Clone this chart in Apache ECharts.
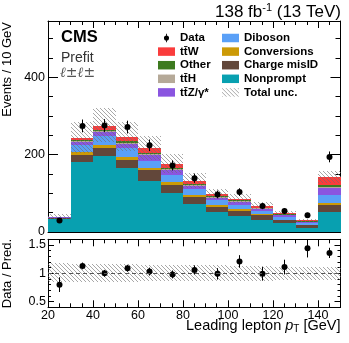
<!DOCTYPE html>
<html>
<head>
<meta charset="utf-8">
<script src="https://cdn.jsdelivr.net/npm/echarts@6/dist/echarts.min.js"></script>
<style>
html, body { margin: 0; padding: 0; background: #fff; }
#chart { width: 349px; height: 343px; }
</style>
</head>
<body>
<div id="chart"></div>
<script>
// Leading lepton pT bins [GeV], last bin holds the overflow
const binEdges = [20, 30, 40, 50, 60, 70, 80, 90, 100, 110, 120, 130, 140, 150];

// Prefit yields (events / 10 GeV), stack order bottom -> top
const nonprompt   = [34, 182, 196, 165, 133, 101, 73, 52, 41, 32, 22, 11, 51];
const chargeMisID = [1, 18, 21, 22, 26, 20, 17, 13, 13, 11, 8, 6, 18];
const conversions = [0.5, 7, 8, 8, 7, 7, 5, 4, 4.5, 3, 2, 1, 7];
const diboson     = [1.5, 17, 23, 21, 17, 19, 16, 14, 12, 9, 7, 5, 20];
const ttZ         = [0.5, 9, 10, 12, 16, 13, 9, 5, 7, 5, 4, 3, 18];
const ttH         = [0.2, 2, 3, 3, 2.5, 2, 2, 1.5, 1.5, 1, 1, 0.5, 3];
const other       = [0.3, 3, 3, 4, 3.5, 3, 3, 3, 2.5, 2, 1.5, 1, 5];
const ttW         = [0.5, 5, 10, 11, 11, 11, 8, 6, 5, 5, 3.5, 2.5, 20];

// Observed data
const dataYield = [30, 274, 275, 271, 224, 172, 139, 97, 103, 67, 54, 43, 194];
const dataErr   = [5.5, 16.5, 16.5, 16.5, 15, 13, 12, 10, 10, 8, 7.5, 6.5, 14];

// Total relative uncertainty of the prediction
const uncUp   = [0.19, 0.17, 0.17, 0.16, 0.15, 0.15, 0.14, 0.14, 0.13, 0.13, 0.12, 0.12, 0.11];
const uncDown = [0.16, 0.16, 0.15, 0.15, 0.14, 0.14, 0.14, 0.13, 0.13, 0.13, 0.12, 0.12, 0.11];

// Data / prediction
const ratio    = [0.80, 1.13, 1.00, 1.09, 1.03, 0.98, 1.06, 0.99, 1.21, 0.99, 1.11, 1.44, 1.36];
const ratioErr = [0.13, 0.06, 0.06, 0.06, 0.07, 0.07, 0.08, 0.10, 0.11, 0.12, 0.13, 0.16, 0.09];

const ratioTicks = [0.5, 1, 1.5];

const FONT = '"Liberation Sans", Arial, Helvetica, sans-serif';
const N_TTW = 't\u0074\u0304W';
const N_TTH = 't\u0074\u0304H';
const N_TTZ = 't\u0074\u0304Z/\u03b3*';

const processes = [
    { name: 'Nonprompt', values: nonprompt, color: '#08a0b0' },
    { name: 'Charge misID', values: chargeMisID, color: '#62473a' },
    { name: 'Conversions', values: conversions, color: '#cc9a06' },
    { name: 'Diboson', values: diboson, color: '#5aa0f7' },
    { name: N_TTZ, values: ttZ, color: '#8a55e0' },
    { name: N_TTH, values: ttH, color: '#b5a998' },
    { name: 'Other', values: other, color: '#3d7a1f' },
    { name: N_TTW, values: ttW, color: '#fa3c3c' }
];

// diagonal hatch pattern used for the uncertainty bands
function hatch(color) {
    const s = 4;
    const c = document.createElement('canvas');
    c.width = s; c.height = s;
    const ctx = c.getContext('2d');
    ctx.strokeStyle = color;
    ctx.lineWidth = 1;
    ctx.beginPath();
    ctx.moveTo(-1, -1); ctx.lineTo(s + 1, s + 1);
    ctx.moveTo(-1, s - 1); ctx.lineTo(1, s + 1);
    ctx.moveTo(s - 1, -1); ctx.lineTo(s + 1, 1);
    ctx.stroke();
    return { image: c, repeat: 'repeat' };
}
const hatchFill = hatch('rgba(110,110,110,0.6)');

// one rectangle per bin, snapped to whole pixels so neighbours don't leave seams
function renderBox(params, api) {
    const a = api.coord([api.value(0), api.value(3)]);
    const b = api.coord([api.value(1), api.value(2)]);
    const x0 = Math.round(a[0]), x1 = Math.round(b[0]);
    const y0 = Math.round(a[1]), y1 = Math.round(b[1]);
    return {
        type: 'rect',
        shape: { x: x0, y: y0, width: x1 - x0, height: y1 - y0 },
        style: api.style()
    };
}

function renderPoint(params, api) {
    const xc = (api.value(0) + api.value(1)) / 2;
    const y = api.value(2), e = api.value(3);
    const c = api.coord([xc, y]);
    const t = api.coord([xc, y + e]);
    const b = api.coord([xc, y - e]);
    const x = Math.round(c[0]) + 0.5;
    return {
        type: 'group',
        children: [
            { type: 'line', shape: { x1: x, y1: t[1], x2: x, y2: b[1] }, style: { stroke: '#000', lineWidth: 1 } },
            { type: 'circle', shape: { cx: x, cy: c[1], r: 3 }, style: { fill: '#000' } }
        ]
    };
}

// stacked prediction
const totals = binEdges.slice(1).map(() => 0);
const stackSeries = processes.map(p => {
    const items = p.values.map((v, i) => {
        const it = [binEdges[i], binEdges[i + 1], totals[i], totals[i] + v];
        totals[i] += v;
        return it;
    });
    return {
        name: p.name, type: 'custom', renderItem: renderBox,
        xAxisIndex: 0, yAxisIndex: 0, z: 2,
        encode: { x: [0, 1], y: [2, 3] },
        itemStyle: { color: p.color },
        data: items
    };
});

const uncItems = totals.map((t, i) => [binEdges[i], binEdges[i + 1], t * (1 - uncDown[i]), t * (1 + uncUp[i])]);
const dataItems = dataYield.map((v, i) => [binEdges[i], binEdges[i + 1], v, dataErr[i]]);
const ratioBandItems = uncUp.map((u, i) => [binEdges[i], binEdges[i + 1], 1 - uncDown[i], 1 + u]);
const ratioItems = ratio.map((r, i) => [binEdges[i], binEdges[i + 1], r, ratioErr[i]]);

// axes: each side gets a major axis and a minor-tick axis (ROOT-like frame)
const black = { color: '#000', width: 1 };
const tickLabel = { color: '#000', fontSize: 12.5, fontFamily: FONT };

function xAxes(grid, labels, majorLen, minorLen) {
    const base = { type: 'value', gridIndex: grid, min: 20, max: 150, splitLine: { show: false } };
    const out = [];
    ['bottom', 'top'].forEach(pos => {
        out.push(Object.assign({}, base, {
            position: pos, interval: 20,
            axisLine: { show: true, onZero: false, lineStyle: black },
            axisTick: { inside: true, length: majorLen, lineStyle: black },
            axisLabel: Object.assign({ show: labels && pos === 'bottom', margin: 1.5, showMaxLabel: false }, tickLabel)
        }));
        out.push(Object.assign({}, base, {
            position: pos, interval: 5,
            axisLine: { show: false, onZero: false },
            axisTick: { inside: true, length: minorLen, lineStyle: black },
            axisLabel: { show: false }
        }));
    });
    return out;
}

const yMain = { min: 0, max: 545 };
const yRatio = { min: 0.4, max: 1.6 };

function yAxesMain() {
    const out = [];
    ['left', 'right'].forEach(pos => {
        out.push({
            type: 'value', gridIndex: 0, position: pos, min: yMain.min, max: yMain.max, interval: 200,
            splitLine: { show: false },
            axisLine: { show: true, onZero: false, lineStyle: black },
            axisTick: { inside: true, length: 10, lineStyle: black },
            axisLabel: Object.assign({ show: pos === 'left', margin: 3, showMaxLabel: false }, tickLabel)
        });
        out.push({
            type: 'value', gridIndex: 0, position: pos, min: yMain.min, max: yMain.max, interval: 50,
            splitLine: { show: false },
            axisLine: { show: false, onZero: false },
            axisTick: { inside: true, length: 5, lineStyle: black },
            axisLabel: { show: false }
        });
    });
    return out;
}

function yAxesRatio() {
    const out = [];
    ['left', 'right'].forEach(pos => {
        out.push({
            type: 'value', gridIndex: 1, position: pos, min: yRatio.min, max: yRatio.max,
            splitLine: { show: false },
            axisLine: { show: true, onZero: false, lineStyle: black },
            axisTick: { inside: true, length: 6, lineStyle: black, customValues: ratioTicks },
            axisLabel: Object.assign({ show: pos === 'left', margin: 2, customValues: ratioTicks }, tickLabel)
        });
        out.push({
            type: 'value', gridIndex: 1, position: pos, min: yRatio.min, max: yRatio.max, interval: 0.1,
            splitLine: { show: false },
            axisLine: { show: false, onZero: false },
            axisTick: { inside: true, length: 3, lineStyle: black },
            axisLabel: { show: false }
        });
    });
    return out;
}

const chart = echarts.init(document.getElementById('chart'));

const legendText = { fontFamily: FONT, fontSize: 11.5, fontWeight: 'bold', color: '#000', lineHeight: 13.6 };
const dataIcon = 'path://M4.5,0H5.5V2.5H4.5Z M4.5,7.5H5.5V10H4.5Z M5,2A3,3 0 1,1 5,8A3,3 0 1,1 5,2Z';

const option = {
    animation: false,
    backgroundColor: '#fff',
    grid: [
        { left: 48, right: 8.5, top: 21, height: 211, outerBoundsMode: 'none' },
        { left: 48, right: 8.5, top: 239.3, height: 68, outerBoundsMode: 'none' }
    ],
    xAxis: xAxes(0, false, 7, 4).concat(xAxes(1, true, 7, 4)),
    yAxis: yAxesMain().concat(yAxesRatio()),
    legend: [
        {
            orient: 'vertical', left: 158, top: 31.2, padding: 0, itemGap: 0,
            itemWidth: 17, itemHeight: 8.5, icon: 'rect', selectedMode: false,
            textStyle: legendText,
            data: [{ name: 'Data', icon: dataIcon }, N_TTW, 'Other', N_TTH, N_TTZ]
        },
        {
            orient: 'vertical', left: 222, top: 31.2, padding: 0, itemGap: 0,
            itemWidth: 17, itemHeight: 8.5, icon: 'rect', selectedMode: false,
            textStyle: legendText,
            data: ['Diboson', 'Conversions', 'Charge misID', 'Nonprompt', 'Total unc.']
        }
    ],
    graphic: [
        {
            type: 'text', right: 8, top: 2,
            style: {
                text: '{a|138 fb}{s|-1}{a| (13 TeV)}',
                rich: {
                    a: { fontFamily: FONT, fontSize: 17, lineHeight: 20, fill: '#000' },
                    s: { fontFamily: FONT, fontSize: 11, lineHeight: 11, verticalAlign: 'top', fill: '#000' }
                }
            }
        },
        { type: 'text', left: 61, top: 29, style: { text: 'CMS', fontFamily: FONT, fontSize: 16.5, fontWeight: 'bold', fill: '#000' } },
        { type: 'text', left: 61, top: 51.5, style: { text: 'Prefit', fontFamily: FONT, fontSize: 14, fill: '#333' } },
        { type: 'text', left: 60, top: 66, style: { text: '\u2113\u00b1\u2113\u00b1', fontFamily: '"DejaVu Serif", serif', fontSize: 14, fontStyle: 'italic', fill: '#555' } },
        {
            type: 'text', x: 7.5, y: 22, rotation: Math.PI / 2,
            style: { text: 'Events / 10 GeV', align: 'right', verticalAlign: 'middle', fontFamily: FONT, fontSize: 13, fill: '#000' }
        },
        {
            type: 'text', x: 7.5, y: 273.5, rotation: Math.PI / 2,
            style: { text: 'Data / Pred.', align: 'center', verticalAlign: 'middle', fontFamily: FONT, fontSize: 13, fill: '#000' }
        },
        {
            type: 'text', right: 8.5, top: 318,
            style: {
                text: '{a|Leading lepton }{i|p}{b|T}{a| [GeV]}',
                rich: {
                    a: { fontFamily: FONT, fontSize: 14.5, lineHeight: 17, fill: '#000' },
                    i: { fontFamily: FONT, fontSize: 14.5, lineHeight: 17, fontStyle: 'italic', fill: '#000' },
                    b: { fontFamily: FONT, fontSize: 10, lineHeight: 8, verticalAlign: 'bottom', fill: '#000' }
                }
            }
        }
    ],
    series: stackSeries.concat([
        {
            name: 'Total unc.', type: 'custom', renderItem: renderBox,
            xAxisIndex: 0, yAxisIndex: 0, z: 3,
            encode: { x: [0, 1], y: [2, 3] },
            itemStyle: { color: hatchFill },
            data: uncItems
        },
        {
            name: 'Data', type: 'custom', renderItem: renderPoint,
            xAxisIndex: 0, yAxisIndex: 0, z: 4,
            encode: { x: [0, 1], y: 2 },
            itemStyle: { color: '#000' },
            data: dataItems
        },
        {
            name: 'Ratio unc.', type: 'custom', renderItem: renderBox,
            xAxisIndex: 4, yAxisIndex: 4, z: 3,
            encode: { x: [0, 1], y: [2, 3] },
            itemStyle: { color: hatchFill },
            data: ratioBandItems,
            markLine: {
                silent: true, symbol: 'none', label: { show: false },
                lineStyle: { type: [4, 3], color: '#555', width: 1 },
                data: [{ yAxis: 1 }]
            }
        },
        {
            name: 'Ratio', type: 'custom', renderItem: renderPoint,
            xAxisIndex: 4, yAxisIndex: 4, z: 4,
            encode: { x: [0, 1], y: 2 },
            itemStyle: { color: '#000' },
            data: ratioItems
        }
    ])
};

chart.setOption(option);

window.addEventListener('resize', function () {
    chart.resize();
});
</script>
</body>
</html>
